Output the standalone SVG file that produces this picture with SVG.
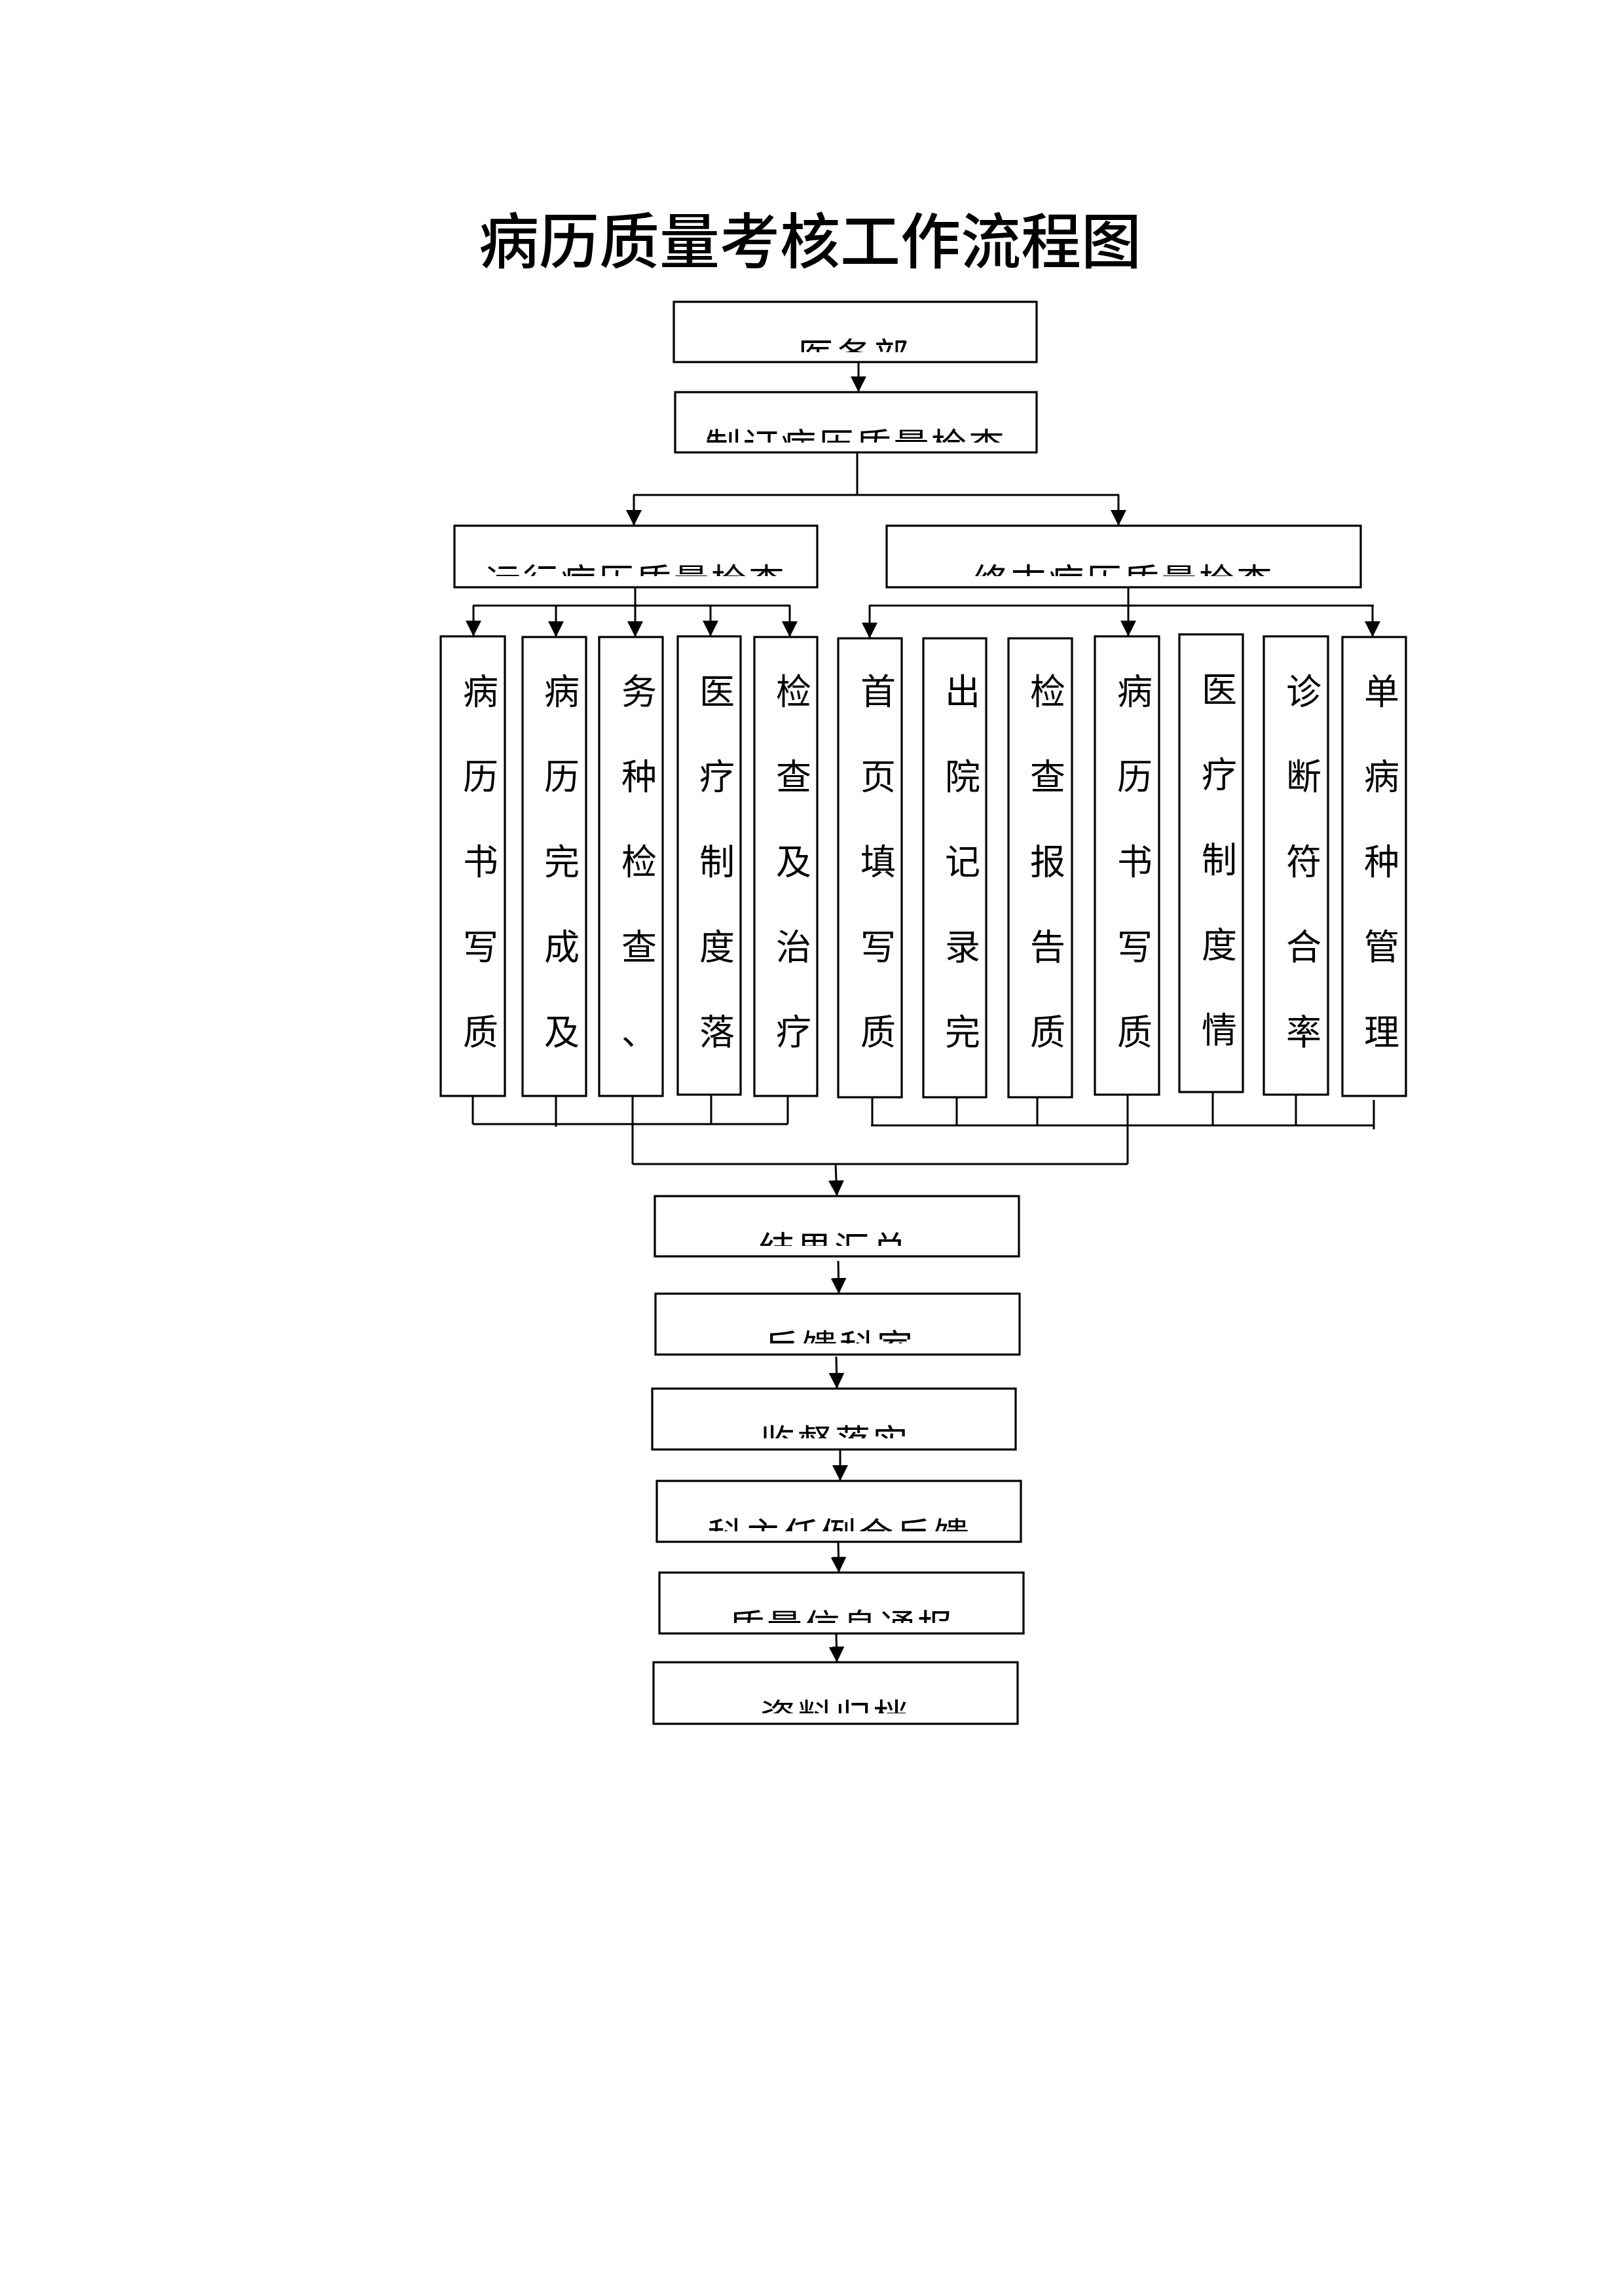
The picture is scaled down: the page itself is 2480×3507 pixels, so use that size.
<svg xmlns="http://www.w3.org/2000/svg" width="2480" height="3507" viewBox="0 0 2480 3507">
<style>
.box{fill:#fff;stroke:#000;stroke-width:3.2}
.ln{fill:none;stroke:#000;stroke-width:3}
.arr{fill:none;stroke:#000;stroke-width:3;marker-end:url(#ah)}
.lbl{font-family:"Noto Sans CJK SC",sans-serif;font-size:54px;letter-spacing:3.5px;text-anchor:middle;fill:#000}
.vt{font-family:"Noto Sans CJK SC",sans-serif;font-size:54px;text-anchor:middle;fill:#000}
.title{font-family:"Noto Sans CJK SC",sans-serif;font-size:92px;font-weight:500;text-anchor:middle;fill:#000}
</style>
<defs>
<marker id="ah" markerUnits="userSpaceOnUse" markerWidth="24" markerHeight="24" refX="24" refY="12" orient="auto">
<path d="M0,0 L24,12 L0,24 z" fill="#000"/>
</marker>
<clipPath id="c1"><rect x="1029" y="461" width="554" height="77"/></clipPath>
<clipPath id="c2"><rect x="1031" y="599" width="552" height="77"/></clipPath>
<clipPath id="c3"><rect x="694" y="803" width="554" height="77"/></clipPath>
<clipPath id="c4"><rect x="1354" y="803" width="724" height="77"/></clipPath>
<clipPath id="c5"><rect x="1000" y="1827" width="556" height="76"/></clipPath>
<clipPath id="c6"><rect x="1001" y="1976" width="556" height="76"/></clipPath>
<clipPath id="c7"><rect x="996" y="2121" width="555" height="76"/></clipPath>
<clipPath id="c8"><rect x="1003" y="2262" width="556" height="77"/></clipPath>
<clipPath id="c9"><rect x="1007" y="2402" width="556" height="77"/></clipPath>
<clipPath id="c10"><rect x="998" y="2539" width="556" height="78"/></clipPath>
</defs>
<rect x="0" y="0" width="2480" height="3507" fill="#fff"/>

<text id="title" class="title" x="1237" y="402">病历质量考核工作流程图</text>

<g id="connectors">
<line class="arr" x1="1311" y1="553" x2="1311" y2="599"/>
<polyline class="ln" points="1309,691 1309,756"/>
<line class="ln" x1="967" y1="756" x2="1709" y2="756"/>
<line class="arr" x1="968" y1="756" x2="968" y2="803"/>
<line class="arr" x1="1708" y1="756" x2="1708" y2="803"/>
<line class="ln" x1="970" y1="897" x2="970" y2="925"/>
<line class="ln" x1="722" y1="925" x2="1207" y2="925"/>
<line class="arr" x1="723" y1="925" x2="723" y2="972"/>
<line class="arr" x1="849" y1="925" x2="849" y2="973"/>
<line class="arr" x1="970" y1="925" x2="970" y2="973"/>
<line class="arr" x1="1085" y1="925" x2="1085" y2="972"/>
<line class="arr" x1="1206" y1="925" x2="1206" y2="973"/>
<line class="ln" x1="1723" y1="897" x2="1723" y2="925"/>
<line class="ln" x1="1327" y1="925" x2="2098" y2="925"/>
<line class="arr" x1="1328" y1="925" x2="1328" y2="975"/>
<line class="arr" x1="1723" y1="925" x2="1723" y2="972"/>
<line class="arr" x1="2096" y1="925" x2="2096" y2="973"/>

<line class="ln" x1="722" y1="1674" x2="722" y2="1717"/>
<line class="ln" x1="849" y1="1674" x2="849" y2="1721"/>
<line class="ln" x1="966" y1="1674" x2="966" y2="1778"/>
<line class="ln" x1="1086" y1="1672" x2="1086" y2="1717"/>
<line class="ln" x1="1203" y1="1674" x2="1203" y2="1717"/>
<line class="ln" x1="722" y1="1717" x2="1203" y2="1717"/>
<line class="ln" x1="1332" y1="1676" x2="1332" y2="1719"/>
<line class="ln" x1="1461" y1="1676" x2="1461" y2="1719"/>
<line class="ln" x1="1584" y1="1676" x2="1584" y2="1719"/>
<line class="ln" x1="1722" y1="1672" x2="1722" y2="1778"/>
<line class="ln" x1="1852" y1="1668" x2="1852" y2="1719"/>
<line class="ln" x1="1979" y1="1672" x2="1979" y2="1719"/>
<line class="ln" x1="2098" y1="1680" x2="2098" y2="1725"/>
<line class="ln" x1="1330" y1="1719" x2="2098" y2="1719"/>
<line class="ln" x1="966" y1="1778" x2="1722" y2="1778"/>
<line class="arr" x1="1276" y1="1778" x2="1278" y2="1827"/>

<line class="arr" x1="1280" y1="1926" x2="1281" y2="1976"/>
<line class="arr" x1="1277" y1="2072" x2="1278" y2="2121"/>
<line class="arr" x1="1283" y1="2215" x2="1283" y2="2262"/>
<line class="arr" x1="1280" y1="2356" x2="1281" y2="2402"/>
<line class="arr" x1="1277" y1="2496" x2="1278" y2="2539"/>
</g>

<g id="n-yiwubu"><rect class="box" x="1029" y="461" width="554" height="92"/><text class="lbl" clip-path="url(#c1)" x="1305" y="563">医务部</text></g>
<g id="n-zhiding"><rect class="box" x="1031" y="599" width="552" height="92"/><text class="lbl" clip-path="url(#c2)" x="1307" y="701">制订病历质量检查</text></g>
<g id="n-yunxing"><rect class="box" x="694" y="803" width="554" height="94"/><text class="lbl" clip-path="url(#c3)" x="971" y="908">运行病历质量检查</text></g>
<g id="n-zhongmo"><rect class="box" x="1354" y="803" width="724" height="94"/><text class="lbl" clip-path="url(#c4)" x="1716" y="908">终末病历质量检查</text></g>

<g id="v1"><rect class="box" x="673" y="972" width="98" height="702"/><text class="vt"><tspan x="734" y="1076">病</tspan><tspan x="734" y="1206">历</tspan><tspan x="734" y="1336">书</tspan><tspan x="734" y="1466">写</tspan><tspan x="734" y="1596">质</tspan></text></g>
<g id="v2"><rect class="box" x="798" y="973" width="97" height="701"/><text class="vt"><tspan x="858" y="1076">病</tspan><tspan x="858" y="1206">历</tspan><tspan x="858" y="1336">完</tspan><tspan x="858" y="1466">成</tspan><tspan x="858" y="1596">及</tspan></text></g>
<g id="v3"><rect class="box" x="915" y="973" width="97" height="701"/><text class="vt"><tspan x="976" y="1076">务</tspan><tspan x="976" y="1206">种</tspan><tspan x="976" y="1336">检</tspan><tspan x="976" y="1466">查</tspan><tspan x="976" y="1596">、</tspan></text></g>
<g id="v4"><rect class="box" x="1035" y="972" width="96" height="700"/><text class="vt"><tspan x="1095" y="1076">医</tspan><tspan x="1095" y="1206">疗</tspan><tspan x="1095" y="1336">制</tspan><tspan x="1095" y="1466">度</tspan><tspan x="1095" y="1596">落</tspan></text></g>
<g id="v5"><rect class="box" x="1152" y="973" width="96" height="701"/><text class="vt"><tspan x="1212" y="1076">检</tspan><tspan x="1212" y="1206">查</tspan><tspan x="1212" y="1336">及</tspan><tspan x="1212" y="1466">治</tspan><tspan x="1212" y="1596">疗</tspan></text></g>
<g id="v6"><rect class="box" x="1280" y="975" width="97" height="701"/><text class="vt"><tspan x="1341" y="1076">首</tspan><tspan x="1341" y="1206">页</tspan><tspan x="1341" y="1336">填</tspan><tspan x="1341" y="1466">写</tspan><tspan x="1341" y="1596">质</tspan></text></g>
<g id="v7"><rect class="box" x="1410" y="975" width="96" height="701"/><text class="vt"><tspan x="1470" y="1076">出</tspan><tspan x="1470" y="1206">院</tspan><tspan x="1470" y="1336">记</tspan><tspan x="1470" y="1466">录</tspan><tspan x="1470" y="1596">完</tspan></text></g>
<g id="v8"><rect class="box" x="1540" y="975" width="97" height="701"/><text class="vt"><tspan x="1600" y="1076">检</tspan><tspan x="1600" y="1206">查</tspan><tspan x="1600" y="1336">报</tspan><tspan x="1600" y="1466">告</tspan><tspan x="1600" y="1596">质</tspan></text></g>
<g id="v9"><rect class="box" x="1672" y="972" width="98" height="700"/><text class="vt"><tspan x="1733" y="1076">病</tspan><tspan x="1733" y="1206">历</tspan><tspan x="1733" y="1336">书</tspan><tspan x="1733" y="1466">写</tspan><tspan x="1733" y="1596">质</tspan></text></g>
<g id="v10"><rect class="box" x="1801" y="969" width="97" height="699"/><text class="vt"><tspan x="1862" y="1073">医</tspan><tspan x="1862" y="1203">疗</tspan><tspan x="1862" y="1333">制</tspan><tspan x="1862" y="1463">度</tspan><tspan x="1862" y="1593">情</tspan></text></g>
<g id="v11"><rect class="box" x="1930" y="972" width="98" height="700"/><text class="vt"><tspan x="1991" y="1076">诊</tspan><tspan x="1991" y="1206">断</tspan><tspan x="1991" y="1336">符</tspan><tspan x="1991" y="1466">合</tspan><tspan x="1991" y="1596">率</tspan></text></g>
<g id="v12"><rect class="box" x="2050" y="973" width="97" height="701"/><text class="vt"><tspan x="2110" y="1076">单</tspan><tspan x="2110" y="1206">病</tspan><tspan x="2110" y="1336">种</tspan><tspan x="2110" y="1466">管</tspan><tspan x="2110" y="1596">理</tspan></text></g>

<g id="n-jieguo"><rect class="box" x="1000" y="1827" width="556" height="92"/><text class="lbl" clip-path="url(#c5)" x="1274" y="1928">结果汇总</text></g>
<g id="n-fankui"><rect class="box" x="1001" y="1976" width="556" height="93"/><text class="lbl" clip-path="url(#c6)" x="1282" y="2078">反馈科室</text></g>
<g id="n-jiandu"><rect class="box" x="996" y="2121" width="555" height="93"/><text class="lbl" clip-path="url(#c7)" x="1275" y="2223">监督落实</text></g>
<g id="n-kezhuren"><rect class="box" x="1003" y="2262" width="556" height="93"/><text class="lbl" clip-path="url(#c8)" x="1282" y="2365">科主任例会反馈</text></g>
<g id="n-zhiliang"><rect class="box" x="1007" y="2402" width="556" height="93"/><text class="lbl" clip-path="url(#c9)" x="1286" y="2505">质量信息通报</text></g>
<g id="n-ziliao"><rect class="box" x="998" y="2539" width="556" height="94"/><text class="lbl" clip-path="url(#c10)" x="1276" y="2642">资料归档</text></g>
</svg>
